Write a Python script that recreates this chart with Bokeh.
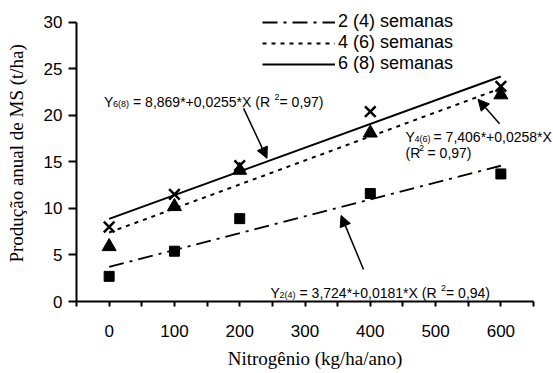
from bokeh.plotting import figure
from bokeh.models import Range1d, FixedTicker, Legend, LegendItem, Label, Arrow, NormalHead
from bokeh.embed import file_html
from bokeh.resources import INLINE

# ---- data ----
nitrogen = [0, 100, 200, 400, 600]
prod_2_4 = [2.7, 5.4, 8.9, 11.6, 13.7]
prod_4_6 = [5.9, 10.2, 14.1, 18.1, 22.2]
prod_6_8 = [8.0, 11.5, 14.6, 20.4, 23.1]

fit_x = [0, 600]
fit_2_4 = [3.72, 14.58]
fit_4_6 = [7.41, 22.89]
fit_6_8 = [8.87, 24.17]

series_names = ["2 (4) semanas", "4 (6) semanas", "6 (8) semanas"]

x_ticks = [-50, 0, 50, 100, 150, 200, 250, 300, 350, 400, 450, 500, 550, 600, 650]
x_tick_labels = ["0", "100", "200", "300", "400", "500", "600"]
y_ticks = [0, 5, 10, 15, 20, 25, 30]

x_title = "Nitrogênio (kg/ha/ano)"
y_title = "Produção anual de MS  (t/ha)"

SANS = "Liberation Sans"
SERIF = "Liberation Serif"

# the frame is extended to the top and right edges so the legend and the
# equations (annotations are clipped to the frame) stay visible; the axes
# themselves are bounded to the chart's real extent.
p = figure(width=553, height=373, output_backend="svg", toolbar_location=None,
           x_range=Range1d(-50, 680.6), y_range=Range1d(0, 32.33),
           min_border_left=76, min_border_right=0, min_border_top=0, min_border_bottom=72)
p.outline_line_color = None
p.xgrid.visible = False
p.ygrid.visible = False
p.background_fill_color = "white"
p.border_fill_color = "white"

# axes
overrides = {}
for t in x_ticks:
    overrides[t] = str(t) if str(t) in x_tick_labels else ""
xa = p.xaxis[0]
xa.bounds = (-50, 650)
xa.ticker = FixedTicker(ticks=x_ticks)
xa.major_label_overrides = overrides
xa.minor_tick_line_color = None
xa.major_tick_in = 0
xa.major_tick_out = 5
xa.major_tick_line_width = 2
xa.axis_line_width = 2
xa.major_label_standoff = 18
xa.major_label_text_font = SANS
xa.major_label_text_font_size = "17px"
xa.major_label_text_color = "black"
xa.axis_label = x_title
xa.axis_label_standoff = 8
xa.axis_label_text_font = SERIF
xa.axis_label_text_font_size = "19px"
xa.axis_label_text_font_style = "normal"
xa.axis_label_text_color = "black"

ya = p.yaxis[0]
ya.bounds = (0, 30)
ya.ticker = FixedTicker(ticks=y_ticks)
ya.minor_tick_line_color = None
ya.major_tick_in = 0
ya.major_tick_out = 8
ya.major_tick_line_width = 2
ya.axis_line_width = 2
ya.major_label_standoff = 6
ya.major_label_text_font = SANS
ya.major_label_text_font_size = "17px"
ya.major_label_text_color = "black"
ya.axis_label = y_title
ya.axis_label_standoff = 14
ya.axis_label_text_font = SERIF
ya.axis_label_text_font_size = "19px"
ya.axis_label_text_font_style = "normal"
ya.axis_label_text_color = "black"

# regression lines
l2 = p.line(fit_x, fit_2_4, line_color="black", line_width=2, line_dash="15 6 3 6")
l4 = p.line(fit_x, fit_4_6, line_color="black", line_width=2, line_dash="4 5")
l6 = p.line(fit_x, fit_6_8, line_color="black", line_width=2)

# observed points
p.scatter(nitrogen, prod_2_4, marker="square", size=10, fill_color="black", line_color="black")
p.scatter(nitrogen, prod_4_6, marker="triangle", size=14, fill_color="black", line_color="black")
p.scatter(nitrogen, prod_6_8, marker="x", size=15, line_color="black", line_width=2.5)

# legend
legend = Legend(items=[LegendItem(label=series_names[0], renderers=[l2]),
                       LegendItem(label=series_names[1], renderers=[l4]),
                       LegendItem(label=series_names[2], renderers=[l6])],
                location=(186, 227), glyph_width=73, glyph_height=20, label_height=20,
                label_standoff=3, spacing=0, padding=0, margin=0,
                border_line_color=None, background_fill_alpha=0,
                label_text_font=SANS, label_text_font_size="18px", label_text_color="black")
p.add_layout(legend)

# equation annotations: (anchor x, anchor y, pieces of (text, dx, dy, size))
annotations = [
    (-7.8, 21.4, [("Y", 0, 0, 14), ("6(8)", 9, -2, 9), ("= 8,869*+0,0255*X (R", 29, 0, 14),
                  ("2", 170.5, 5.5, 9), ("= 0,97)", 175.5, 0, 14)]),
    (454.0, 17.69, [("Y", 0, 0, 14), ("4(6)", 9, -2.5, 9), ("= 7,406*+0,0258*X", 28, 0, 14),
                    ("(R", 0, -16, 14), ("2", 13.5, -11.5, 9), ("= 0,97)", 22, -16, 14)]),
    (247.2, 0.91, [("Y", 0, 0, 14), ("2(4)", 9, -2, 9), ("= 3,724*+0,0181*X (R", 29, 0, 14),
                   ("2", 170.5, 5.5, 9), ("= 0,94)", 175.5, 0, 14)]),
]
for ax, ay, pieces in annotations:
    for txt, dx, dy, sz in pieces:
        p.add_layout(Label(x=ax, y=ay, x_offset=dx, y_offset=dy, text=txt,
                           text_font=SANS, text_font_size=f"{sz}px", text_color="black",
                           text_baseline="alphabetic", text_align="left"))

# arrows (start -> end, in data units)
arrows = [(205.9, 20.75, 241.8, 15.38),
          (598.0, 19.09, 565.0, 21.72),
          (389.6, 3.44, 355.2, 9.25)]
for xs, ys, xe, ye in arrows:
    p.add_layout(Arrow(end=NormalHead(size=11, fill_color="black", line_color="black"),
                       x_start=xs, y_start=ys, x_end=xe, y_end=ye,
                       line_color="black", line_width=1.5))

open("out.html", "w").write(file_html(p, INLINE))
